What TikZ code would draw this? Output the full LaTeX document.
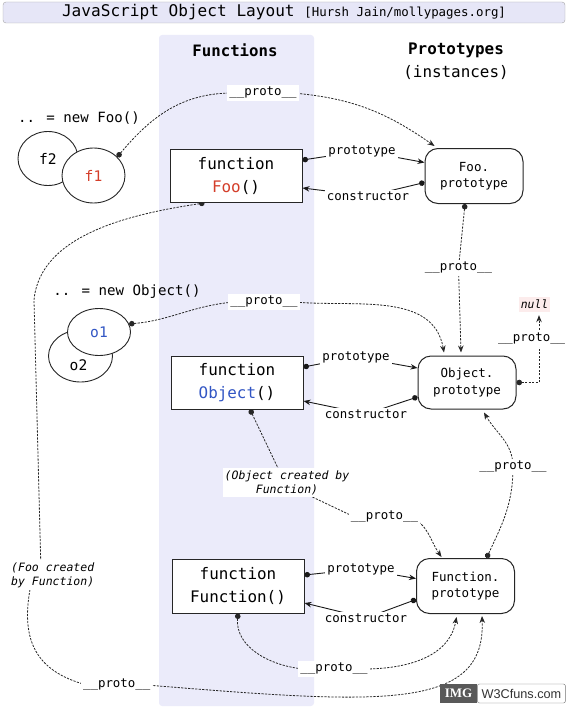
\documentclass[tikz,border=0pt]{standalone}
\usepackage{fontspec}
\setmainfont{DejaVu Sans Mono}
\newfontfamily\sitefont{Liberation Sans}
\newfontfamily\imgfont{Liberation Serif}
\usetikzlibrary{positioning, arrows.meta, shapes.geometric}
\pgfdeclarelayer{background}
\pgfsetlayers{background,main}
\definecolor{bandblue}{RGB}{235,235,250}
\definecolor{titleblue}{RGB}{230,230,247}
\definecolor{foored}{RGB}{212,62,42}
\definecolor{objblue}{RGB}{50,86,196}
\definecolor{nullpink}{RGB}{252,236,236}
\tikzset {
    >={Stealth[length=7pt, width=5.5pt]},
    fnbox/.style={draw=black!85, line width=1pt, fill=white, minimum width=132pt, minimum height=53pt, align=center, font=\fontsize{15.9}{23}\selectfont},
    protobox/.style={draw=black!85, line width=1pt, fill=white, rounded corners=13pt, minimum width=98pt, minimum height=55pt, align=center, font=\fontsize{12.5}{16.5}\selectfont},
    inst/.style={ellipse, draw=black!85, line width=0.9pt, fill=white, inner sep=0pt, font=\fontsize{14.6}{16}\selectfont},
    lbl/.style={fill=white, inner sep=2pt, font=\fontsize{12.4}{14}\selectfont},
    note/.style={fill=white, inner sep=2pt, align=center, font=\fontsize{11.5}{14}\selectfont\itshape},
    link/.style={{Circle[length=5.5pt]}->, line width=0.9pt, black!90},
    protolink/.style={{Circle[length=5.5pt]}->, line width=0.8pt, black!85, dash pattern=on 2.2pt off 1.3pt},
    imgtag/.style={fill=black!65, text=white, inner sep=0pt, minimum width=37pt, minimum height=19pt, font=\imgfont\bfseries\fontsize{13}{13}\selectfont},
    sitetag/.style={draw=black!55, fill=white, text=black!80, rounded corners=2pt, inner sep=0pt, minimum width=88pt, minimum height=19pt, font=\sitefont\fontsize{12.7}{13}\selectfont}
}

\begin{document}
\begin{tikzpicture}[x=1pt, y=-1pt, node distance=230pt]
    \useasboundingbox (0,0) rectangle (570,709);

    \node[draw=black!35, fill=titleblue, rounded corners=3pt, minimum width=562pt, minimum height=21pt, inner sep=1pt] (title) at (284,12.5)
        {\fontsize{16.1}{18}\selectfont JavaScript Object Layout {\fontsize{12.4}{14}\selectfont[Hursh Jain/mollypages.org]}};
    \node[font=\fontsize{15.7}{23}\selectfont\bfseries] (fnhead) at (235,50) {Functions};
    \node[align=center, font=\fontsize{15.9}{23}\selectfont] (prhead) at (456,61.5) {\textbf{Prototypes}\\(instances)};

    \node[font=\fontsize{14.1}{16}\selectfont] (newfoo) at (79,118) {.. = new Foo()};
    \node[inst, minimum width=60pt, minimum height=54pt] (f2) at (48,158.5) {f2};
    \node[inst, minimum width=63pt, minimum height=55pt] (f1) at (93.5,175.5) {\textcolor{foored}{f1}};
    \node[font=\fontsize{14.1}{16}\selectfont] (newobj) at (127,292) {.. = new Object()};
    \node[inst, minimum width=64pt, minimum height=52pt] (o2) at (80.5,356) {};
    \node[font=\fontsize{14.6}{16}\selectfont] (o2txt) at (78.5,365) {o2};
    \node[inst, minimum width=63pt, minimum height=47pt] (o1) at (99,332) {\textcolor{objblue}{o1}};

    \node[fnbox] (foo) at (236,176) {function\\\textcolor{foored}{Foo}()};
    \node[protobox, right of=foo, xshift=8pt] (fooproto) {Foo.\\prototype};
    \node[fnbox] (objfn) at (237,382.5) {function\\\textcolor{objblue}{Object}()};
    \node[protobox, right of=objfn, minimum height=53pt] (objproto) {Object.\\prototype};
    \node[fnbox, minimum height=54pt] (fnfn) at (238,586) {function\\Function()};
    \node[protobox, right of=fnfn, xshift=-2.5pt] (fnproto) {Function.\\prototype};
    \node[fill=nullpink, inner sep=1pt, minimum width=31pt, minimum height=15pt, font=\fontsize{11.4}{13}\selectfont\itshape] (nullv) at (534.5,304.5) {null};

    \node[lbl] (pFoo) at (362,151) {prototype};
    \node[lbl] (cFoo) at (368,196) {constructor};
    \node[lbl] (pObj) at (356,357) {prototype};
    \node[lbl] (cObj) at (366,414) {constructor};
    \node[lbl] (pFn) at (361,569) {prototype};
    \node[lbl] (cFn) at (366,618) {constructor};

    \node[lbl] (pr1) at (263,93) {\_\_proto\_\_};
    \node[lbl] (pr2) at (458.5,268) {\_\_proto\_\_};
    \node[lbl] (pr3) at (264,302) {\_\_proto\_\_};
    \node[lbl] (pr4) at (531.6,339) {\_\_proto\_\_};
    \node[lbl] (pr5) at (116.7,685) {\_\_proto\_\_};
    \node[lbl] (pr6) at (513,467) {\_\_proto\_\_};
    \node[lbl] (pr7) at (384.5,517) {\_\_proto\_\_};
    \node[lbl] (pr8) at (334,669) {\_\_proto\_\_};
    \node[note] (fooby) at (52.7,575) {(Foo created\\by Function)};
    \node[note] (objby) at (287,482.5) {(Object created by\\Function)};

    \node[imgtag] (img) at (458.5,693.5) {IMG};
    \node[sitetag, right=0pt of img] (site) {W3Cfuns.com};

    \begin{pgfonlayer}{background}
    \fill[bandblue, rounded corners=3pt] (159,35) rectangle (314,706);

    \draw[link] ([yshift=16]foo.east) -- (pFoo.center) -- ([yshift=13.5]fooproto.west);
    \draw[link] ([yshift=-6.5]fooproto.west) -- (cFoo.center) -- ([yshift=-12]foo.east);
    \draw[link] ([yshift=15.5]objfn.east) -- (pObj.center) -- ([yshift=14.5]objproto.west);
    \draw[link] ([yshift=-14.5]objproto.west) -- (cObj.center) -- ([yshift=-18.5]objfn.east);
    \draw[link] ([yshift=11]fnfn.east) -- (pFn.center) -- ([yshift=7.5]fnproto.west);
    \draw[link] ([yshift=-13.5]fnproto.west) -- (cFn.center) -- ([yshift=-17]fnfn.east);

    \draw[protolink] (f1.38) to[out=50,in=180] ([xshift=-30]pr1.center) -- ([xshift=30]pr1.center) to[out=-5,in=145] ([xshift=10,yshift=2]fooproto.north west);
    \draw[protolink] ([xshift=-9]fooproto.south) -- (pr2.center) -- ([xshift=-6,yshift=3]objproto.north);
    \draw[protolink] (o1.15) to[out=5,in=185] ([xshift=-30]pr3.center) -- ([xshift=30]pr3.center) to[out=-5,in=100] ([xshift=-23,yshift=3]objproto.north);
    \draw[protolink] (objproto.east) -| ([xshift=4.5,yshift=-3]nullv.south);
    \draw[protolink] ([xshift=21]fnproto.north) to[out=65,in=-90] (pr6.center) to[out=90,in=-60] ([xshift=17,yshift=-3]objproto.south);
    \draw[protolink] ([xshift=13]objfn.south) -- ([xshift=-9]objby.north) -- ([xshift=25]objby.south) -- ([xshift=-30]pr7.center) -- ([xshift=25]pr7.center) to[out=-20,in=125] ([xshift=-24,yshift=1]fnproto.north);
    \draw[protolink] (fnfn.south) to[out=-95,in=175] ([xshift=-30]pr8.center) -- ([xshift=30]pr8.center) to[out=0,in=-100] ([xshift=-9,yshift=-3]fnproto.south);
    \draw[protolink] ([xshift=-31.5]foo.south) .. controls (130,214) and (40,235) .. (34,300) -- ([xshift=-12]fooby.north)
        -- ([xshift=21]fooby.south west) to[out=-100,in=165,looseness=1.2] ([xshift=-30]pr5.center) -- ([xshift=30]pr5.center)
        .. controls (380,704) and (486,712) .. ([xshift=16.5,yshift=-2]fnproto.south);
    \end{pgfonlayer}
\end{tikzpicture}
\end{document}
